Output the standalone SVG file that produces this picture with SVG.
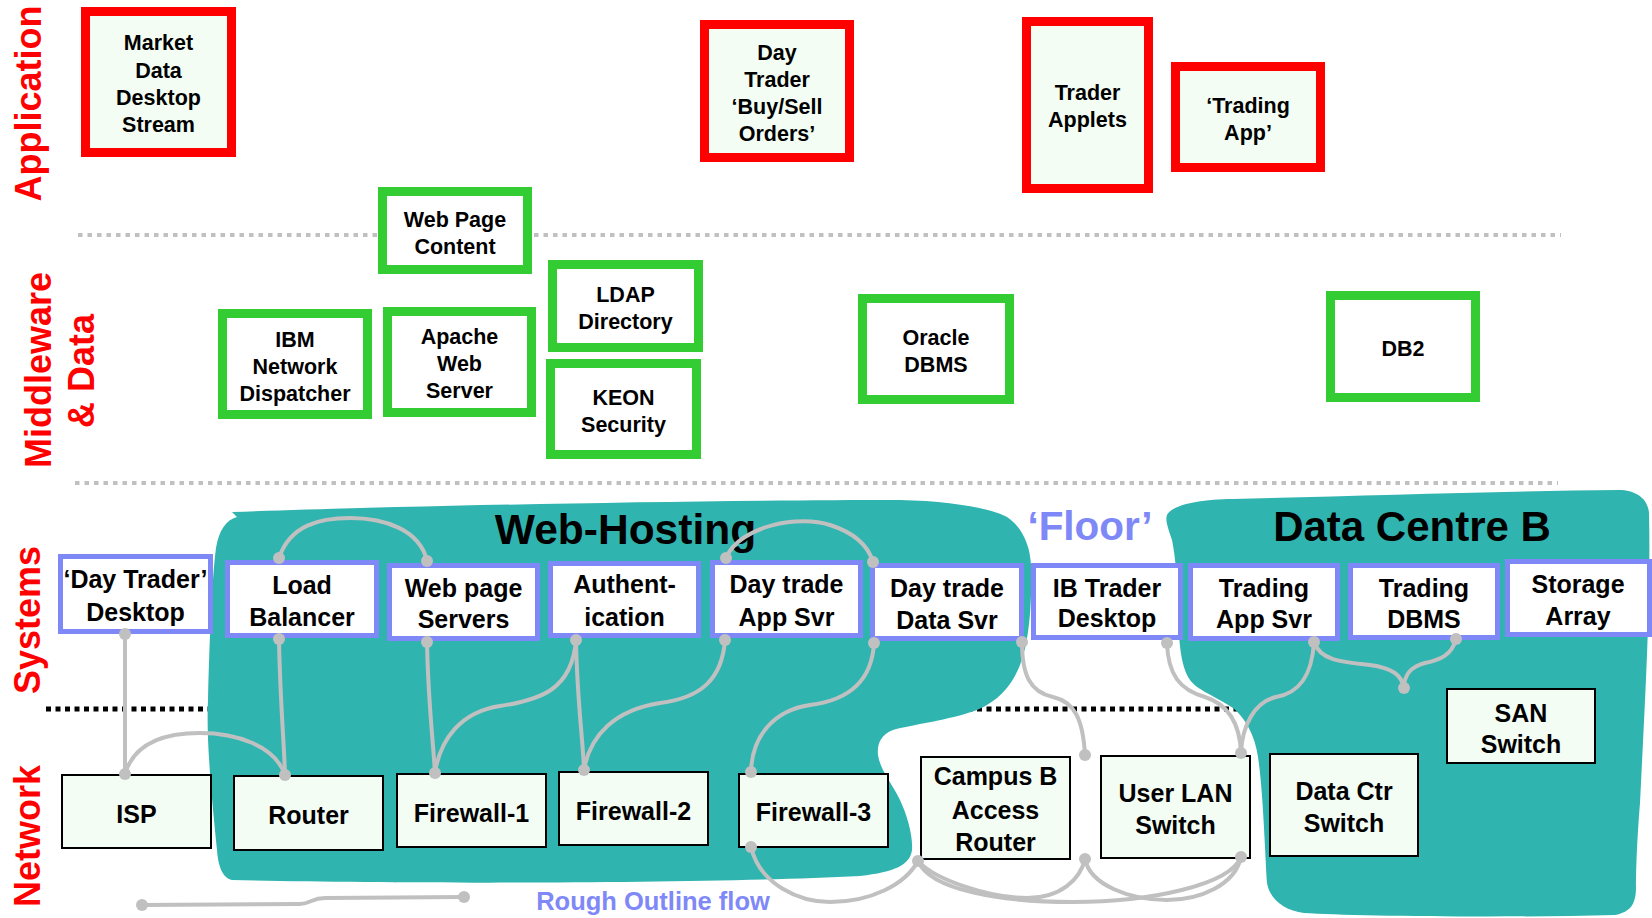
<svg xmlns="http://www.w3.org/2000/svg" width="1652" height="918" viewBox="0 0 1652 918">
<style>
text{font-family:"Liberation Sans",Arial,sans-serif;font-weight:bold;text-anchor:middle;fill:#000}
.layer{font-size:36px;fill:#FF0000}
.app rect{fill:#F3FDF3;stroke:#FF0000;stroke-width:9}
.mid rect{fill:#FFFFFF;stroke:#33CC33;stroke-width:9}
.sys rect{fill:#FFFFFF;stroke:#7F88F7;stroke-width:5}
.net rect{fill:#F3FDF3;stroke:#000;stroke-width:2}
.app text,.mid text{font-size:21.5px}
.sys text,.net text{font-size:25px}
.blob{fill:#30B4B0}
.title{font-size:42.5px}
.blue{fill:#7F88F7}
.conn path{fill:none;stroke:#C0C0C0;stroke-width:4}
.conn circle{fill:#C0C0C0}
.dotg{stroke:#C0C0C0;stroke-width:4;stroke-dasharray:4.5 5}
.dotb{stroke:#000;stroke-width:5;stroke-dasharray:5 4.5}
</style>

<!-- layer labels -->
<g id="layer-labels">
<text class="layer" transform="translate(41,103.5) rotate(-90)">Application</text>
<text class="layer" transform="translate(51,370) rotate(-90)">Middleware</text>
<text class="layer" transform="translate(94,371) rotate(-90)">&amp; Data</text>
<text class="layer" transform="translate(40,620) rotate(-90)">Systems</text>
<text class="layer" transform="translate(40,836) rotate(-90)">Network</text>
</g>

<!-- separators -->
<g id="separators">
<line class="dotg" x1="78" y1="235" x2="1561" y2="235"/>
<line class="dotg" x1="75" y1="483" x2="1558" y2="483"/>
<line class="dotb" x1="46" y1="709" x2="1444" y2="709"/>
</g>

<!-- zones -->
<g id="zone-web-hosting">
<path class="blob" d="M232,512 C400,506 700,500 900,500 C950,501 990,508 1007,517 C1022,527 1030,545 1031,565 C1032,600 1030,640 1020,665 C1012,685 1000,700 977,710 C950,720 910,725 893,730 C880,735 877,745 878,755 C880,770 893,785 900,800 C907,815 913,835 912,850 C910,865 895,872 860,876 C700,884 400,884 232,880 C222,878 218,865 217,850 C212,800 206,740 208,700 C210,620 213,570 216,548 C219,530 226,520 237,517 Z"/>
<text class="title" x="625.5" y="544">Web-Hosting</text>
</g>
<g id="zone-data-centre-b">
<path class="blob" d="M1167,515 C1172,505 1200,499 1233,499 C1350,496 1500,491 1619,490 C1635,490 1648,498 1649,513 C1651,600 1645,700 1640,803 C1637,840 1636,870 1636,887 C1636,905 1630,912 1615,915 C1500,918 1350,916 1304,913 C1285,911 1270,900 1267,883 C1265,850 1263,790 1258,757 C1255,735 1245,718 1233,708 C1215,696 1197,690 1190,680 C1180,665 1179,640 1178,610 C1177,580 1176,560 1172,540 C1168,528 1165,520 1167,515 Z"/>
<text class="title" x="1412" y="541" style="font-size:42px">Data Centre B</text>
</g>
<g id="zone-floor">
<text class="blue" x="1090" y="540" style="font-size:40.5px">‘Floor’</text>
</g>

<!-- application nodes -->
<g id="market-data" class="app">
<rect x="85.5" y="11.5" width="146" height="141"/>
<text x="158.5" y="50">Market</text><text x="158.5" y="77.5">Data</text><text x="158.5" y="105">Desktop</text><text x="158.5" y="132">Stream</text>
</g>
<g id="day-trader-orders" class="app">
<rect x="704.5" y="24.5" width="145" height="133"/>
<text x="777" y="60">Day</text><text x="777" y="87">Trader</text><text x="777" y="114">‘Buy/Sell</text><text x="777" y="141">Orders’</text>
</g>
<g id="trader-applets" class="app">
<rect x="1026.5" y="21.5" width="122" height="167"/>
<text x="1087.5" y="100">Trader</text><text x="1087.5" y="127">Applets</text>
</g>
<g id="trading-app" class="app">
<rect x="1175.5" y="66.5" width="145" height="101"/>
<text x="1248" y="113">‘Trading</text><text x="1248" y="140">App’</text>
</g>

<!-- middleware nodes -->
<g id="web-page-content" class="mid">
<rect x="382.5" y="191.5" width="145" height="78"/>
<text x="455" y="227">Web Page</text><text x="455" y="254">Content</text>
</g>
<g id="ibm-network-dispatcher" class="mid">
<rect x="222.5" y="313.5" width="145" height="101"/>
<text x="295" y="347">IBM</text><text x="295" y="374">Network</text><text x="295" y="401">Dispatcher</text>
</g>
<g id="apache-web-server" class="mid">
<rect x="387.5" y="311.5" width="144" height="101"/>
<text x="459.5" y="344">Apache</text><text x="459.5" y="371">Web</text><text x="459.5" y="398">Server</text>
</g>
<g id="ldap-directory" class="mid">
<rect x="552.5" y="264.5" width="146" height="83"/>
<text x="625.5" y="302">LDAP</text><text x="625.5" y="329">Directory</text>
</g>
<g id="keon-security" class="mid">
<rect x="550.5" y="363.5" width="146" height="91"/>
<text x="623.5" y="405">KEON</text><text x="623.5" y="432">Security</text>
</g>
<g id="oracle-dbms" class="mid">
<rect x="862.5" y="298.5" width="147" height="101"/>
<text x="936" y="345">Oracle</text><text x="936" y="372">DBMS</text>
</g>
<g id="db2" class="mid">
<rect x="1330.5" y="295.5" width="145" height="102"/>
<text x="1403" y="356">DB2</text>
</g>

<!-- systems nodes -->
<g id="day-trader-desktop" class="sys">
<rect x="60.5" y="556.5" width="150" height="75"/>
<text x="135.5" y="588">‘Day Trader’</text><text x="135.5" y="621">Desktop</text>
</g>
<g id="load-balancer" class="sys">
<rect x="227.5" y="562.5" width="149" height="73"/>
<text x="302" y="594">Load</text><text x="302" y="626">Balancer</text>
</g>
<g id="web-page-servers" class="sys">
<rect x="389.5" y="565.5" width="148" height="73"/>
<text x="463.5" y="597">Web page</text><text x="463.5" y="628">Servers</text>
</g>
<g id="authentication" class="sys">
<rect x="550.5" y="563.5" width="148" height="72"/>
<text x="624.5" y="593">Authent-</text><text x="624.5" y="626">ication</text>
</g>
<g id="day-trade-app-svr" class="sys">
<rect x="712.5" y="562.5" width="148" height="73"/>
<text x="786.5" y="593">Day trade</text><text x="786.5" y="626">App Svr</text>
</g>
<g id="day-trade-data-svr" class="sys">
<rect x="872.5" y="565.5" width="149" height="73"/>
<text x="947" y="597">Day trade</text><text x="947" y="629">Data Svr</text>
</g>
<g id="ib-trader-desktop" class="sys">
<rect x="1033.5" y="565.5" width="147" height="72"/>
<text x="1107" y="597">IB Trader</text><text x="1107" y="627">Desktop</text>
</g>
<g id="trading-app-svr" class="sys">
<rect x="1190.5" y="565.5" width="147" height="73"/>
<text x="1264" y="597">Trading</text><text x="1264" y="628">App Svr</text>
</g>
<g id="trading-dbms" class="sys">
<rect x="1350.5" y="565.5" width="147" height="72"/>
<text x="1424" y="597">Trading</text><text x="1424" y="628">DBMS</text>
</g>
<g id="storage-array" class="sys">
<rect x="1507.5" y="561.5" width="142" height="73"/>
<text x="1578" y="593">Storage</text><text x="1578" y="625">Array</text>
</g>

<!-- network nodes -->
<g id="isp" class="net">
<rect x="62" y="775" width="149" height="73"/>
<text x="136.5" y="823">ISP</text>
</g>
<g id="router" class="net">
<rect x="234" y="776" width="149" height="74"/>
<text x="308.5" y="824">Router</text>
</g>
<g id="firewall-1" class="net">
<rect x="397" y="774" width="149" height="73"/>
<text x="471.5" y="822">Firewall-1</text>
</g>
<g id="firewall-2" class="net">
<rect x="559" y="772" width="149" height="73"/>
<text x="633.5" y="820">Firewall-2</text>
</g>
<g id="firewall-3" class="net">
<rect x="739" y="774" width="149" height="73"/>
<text x="813.5" y="821">Firewall-3</text>
</g>
<g id="campus-b-access-router" class="net">
<rect x="921" y="757" width="149" height="102"/>
<text x="995.5" y="785">Campus B</text><text x="995.5" y="819">Access</text><text x="995.5" y="851">Router</text>
</g>
<g id="user-lan-switch" class="net">
<rect x="1101" y="756" width="149" height="102"/>
<text x="1175.5" y="802">User LAN</text><text x="1175.5" y="834">Switch</text>
</g>
<g id="data-ctr-switch" class="net">
<rect x="1270" y="754" width="148" height="102"/>
<text x="1344" y="800">Data Ctr</text><text x="1344" y="832">Switch</text>
</g>
<g id="san-switch" class="net">
<rect x="1447" y="689" width="148" height="74"/>
<text x="1521" y="722">SAN</text><text x="1521" y="753">Switch</text>
</g>

<!-- connectors -->
<g id="connectors" class="conn">
<path d="M125,634 L125,774"/>
<path d="M125,774 C135,740 170,733 200,733 C235,733 275,745 285,775"/>
<path d="M279,639 C280,700 284,740 285,775"/>
<path d="M279,558 C290,525 320,518 350,518 C385,518 420,530 427,561"/>
<path d="M427,642 C428,700 433,740 435,773"/>
<path d="M435,773 C440,740 460,712 500,706 C540,700 572,690 576,640"/>
<path d="M576,640 C577,700 583,740 584,770"/>
<path d="M725,640 C722,680 700,698 660,703 C615,710 590,735 584,770"/>
<path d="M726,558 C740,525 800,515 830,525 C855,533 868,545 873,562"/>
<path d="M874,643 C872,680 850,700 810,705 C775,710 752,735 751,772"/>
<path d="M1022,642 C1022,675 1030,692 1053,697 C1075,702 1083,720 1085,755"/>
<path d="M1167,643 C1168,675 1180,690 1205,697 C1230,705 1240,725 1241,753"/>
<path d="M1314,642 C1312,675 1300,693 1276,697 C1255,702 1242,725 1241,753"/>
<path d="M1314,642 C1320,660 1340,662 1370,665 C1392,668 1402,675 1404,688"/>
<path d="M1456,639 C1452,655 1440,660 1425,663 C1410,667 1404,675 1404,688"/>
<path d="M751,847 C760,885 800,902 830,902 C870,902 905,885 918,861"/>
<path d="M918,861 C930,890 1000,902 1073,902 C1150,902 1230,885 1241,857"/>
<path d="M918,861 C935,880 990,898 1027,898 C1060,898 1080,880 1085,859"/>
<path d="M1085,859 C1090,885 1130,900 1167,900 C1200,900 1235,885 1241,857"/>
<circle cx="125" cy="634" r="6"/><circle cx="125" cy="774" r="6"/>
<circle cx="285" cy="775" r="6"/><circle cx="279" cy="639" r="6"/>
<circle cx="279" cy="558" r="6"/><circle cx="427" cy="561" r="6"/>
<circle cx="427" cy="642" r="6"/><circle cx="435" cy="773" r="6"/>
<circle cx="576" cy="640" r="6"/><circle cx="584" cy="770" r="6"/>
<circle cx="725" cy="640" r="6"/><circle cx="726" cy="558" r="6"/>
<circle cx="873" cy="562" r="6"/><circle cx="874" cy="643" r="6"/>
<circle cx="751" cy="772" r="6"/><circle cx="1022" cy="642" r="6"/>
<circle cx="1085" cy="755" r="6"/><circle cx="1085" cy="859" r="6"/>
<circle cx="1167" cy="643" r="6"/><circle cx="1241" cy="753" r="6"/>
<circle cx="1314" cy="642" r="6"/><circle cx="1404" cy="688" r="6"/>
<circle cx="1456" cy="639" r="6"/><circle cx="751" cy="847" r="6"/>
<circle cx="918" cy="861" r="6"/><circle cx="1241" cy="857" r="6"/>
</g>

<!-- legend -->
<g id="legend" class="conn">
<path d="M142,905 L300,904 C310,904 312,898 325,898 L464,897"/>
<circle cx="142" cy="905" r="6"/><circle cx="464" cy="897" r="6"/>
<text class="blue" x="653" y="910" style="font-size:25.5px">Rough Outline flow</text>
</g>
</svg>
